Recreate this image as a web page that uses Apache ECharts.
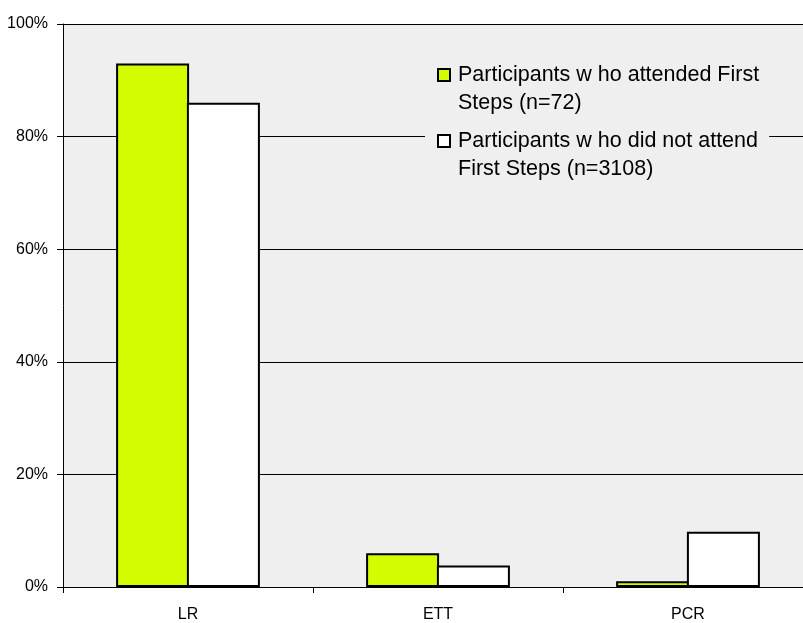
<!DOCTYPE html>
<html>
<head>
<meta charset="utf-8">
<script src="https://cdn.jsdelivr.net/npm/echarts@6/dist/echarts.min.js"></script>
<style>html,body{margin:0;padding:0;background:#fff;overflow:hidden}#c{width:813px;height:623px}</style>
</head>
<body>
<div id="c"></div>
<script>
var categories = ['LR', 'ETT', 'PCR'];
var attended = [93, 6, 1];
var notAttended = [86, 3.8, 9.8];
var seriesNames = ['Participants w ho attended First\nSteps (n=72)', 'Participants w ho did not attend\nFirst Steps (n=3108)'];

var chart = echarts.init(document.getElementById('c'));
var font = 'Liberation Sans, Arial, sans-serif';
chart.setOption({
  animation: false,
  backgroundColor: '#ffffff',
  grid: {
    left: 63, right: 0, top: 24, bottom: 31,
    show: true, backgroundColor: '#efefef', borderWidth: 0
  },
  legend: {
    left: 425, top: 33,
    orient: 'vertical',
    backgroundColor: '#efefef',
    padding: [0, 10, 0, 12],
    itemWidth: 12, itemHeight: 12,
    itemGap: -18,
    icon: 'rect',
    formatter: function (name) { return '\u00a0\n' + name; },
    textStyle: { fontFamily: font, fontSize: 21.5, color: '#000', lineHeight: 28, padding: [0, 0, 0, 3] },
    data: seriesNames
  },
  xAxis: {
    type: 'category',
    data: categories,
    axisLine: { lineStyle: { color: '#000', width: 1 } },
    axisTick: { show: true, length: 6, lineStyle: { color: '#000' } },
    axisLabel: { color: '#000', fontFamily: font, fontSize: 16, margin: 20 }
  },
  yAxis: {
    type: 'value',
    min: 0, max: 100, interval: 20,
    axisLine: { show: true, lineStyle: { color: '#000', width: 1 } },
    axisTick: { show: true, length: 6, lineStyle: { color: '#000' } },
    axisLabel: { color: '#000', fontFamily: font, fontSize: 16, margin: 15, formatter: '{value}%' },
    splitLine: { show: true, lineStyle: { color: '#000', width: 1 } }
  },
  series: [
    {
      name: seriesNames[0], type: 'bar', data: attended,
      barWidth: 73, barGap: '-3%',
      itemStyle: { color: '#d4fc00', borderColor: '#000', borderWidth: 2 }
    },
    {
      name: seriesNames[1], type: 'bar', data: notAttended,
      barWidth: 73, barGap: '-3%',
      itemStyle: { color: '#ffffff', borderColor: '#000', borderWidth: 2 }
    }
  ]
});
</script>
</body>
</html>
